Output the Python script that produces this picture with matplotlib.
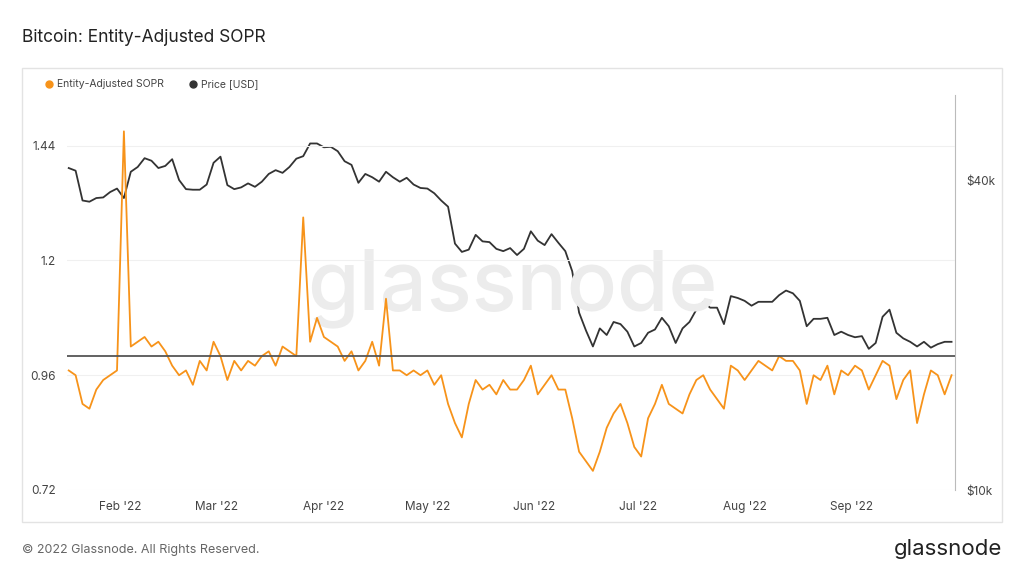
import matplotlib.pyplot as plt
import matplotlib.dates as mdates
from matplotlib.patches import Rectangle
import pandas as pd

# every second day, 2022-01-17 .. 2022-09-30
dates = pd.date_range("2022-01-17", periods=129, freq="2D")

price_k = [
    42.2, 41.7, 36.5, 36.3, 36.9, 37.0, 37.9, 38.5,
    36.9, 41.5, 42.4, 44.1, 43.6, 42.2, 42.6, 43.9, 40.0, 38.4, 38.3, 38.3, 39.2, 43.2,
    44.4, 39.1, 38.4, 38.7, 39.4, 38.8, 39.7, 41.1, 41.8, 41.3, 42.4, 44.0, 44.5, 47.1, 47.1,
    46.3, 46.4, 45.5, 43.5, 42.8, 39.5, 41.1, 40.5, 39.7, 41.5, 40.5, 39.7, 40.4, 39.2, 38.6,
    38.5, 37.7, 36.5, 35.5, 30.1, 29.0, 29.3, 31.3, 30.4, 30.3, 29.4, 29.1, 29.5, 28.6, 29.4, 31.8,
    30.5, 29.9, 31.4, 30.2, 29.1, 26.6, 22.1, 20.4, 19.0, 20.6, 20.0, 21.2, 21.0, 20.3, 19.0,
    19.3, 20.2, 20.5, 21.6, 20.8, 19.3, 20.6, 21.2, 22.4, 23.2, 22.6, 22.6, 21.0, 23.8, 23.6,
    23.3, 22.8, 23.2, 23.2, 23.2, 23.9, 24.4, 24.1, 23.3, 20.8, 21.5, 21.5, 21.6, 20.0, 20.3, 20.0,
    19.8, 19.9, 18.8, 19.3, 21.7, 22.4, 20.2, 19.7, 19.4, 19.0, 19.4, 18.9, 19.2, 19.4, 19.4,
]
price = [p * 1000 for p in price_k]

sopr = [
    0.97, 0.96, 0.90, 0.89, 0.93, 0.95, 0.96, 0.97,
    1.47, 1.02, 1.03, 1.04, 1.02, 1.03, 1.01, 0.98, 0.96, 0.97, 0.94, 0.99, 0.97, 1.03,
    1.00, 0.95, 0.99, 0.97, 0.99, 0.98, 1.00, 1.01, 0.98, 1.02, 1.01, 1.00, 1.29, 1.03, 1.08,
    1.04, 1.03, 1.02, 0.99, 1.01, 0.97, 0.99, 1.03, 0.98, 1.12, 0.97, 0.97, 0.96, 0.97, 0.96,
    0.97, 0.94, 0.96, 0.90, 0.86, 0.83, 0.90, 0.95, 0.93, 0.94, 0.92, 0.95, 0.93, 0.93, 0.95, 0.98,
    0.92, 0.94, 0.96, 0.93, 0.93, 0.87, 0.80, 0.78, 0.76, 0.80, 0.85, 0.88, 0.90, 0.86, 0.81,
    0.79, 0.87, 0.90, 0.94, 0.90, 0.89, 0.88, 0.92, 0.95, 0.96, 0.93, 0.91, 0.89, 0.98, 0.97,
    0.95, 0.97, 0.99, 0.98, 0.97, 1.00, 0.99, 0.99, 0.97, 0.90, 0.96, 0.95, 0.98, 0.92, 0.97, 0.96,
    0.98, 0.97, 0.93, 0.96, 0.99, 0.98, 0.91, 0.95, 0.97, 0.86, 0.92, 0.97, 0.96, 0.92, 0.96,
]

sopr_ticks = [0.72, 0.96, 1.2, 1.44]
price_ticks = [10000, 40000]
price_tick_labels = ["$10k", "$40k"]
month_ticks = pd.date_range("2022-02-01", periods=8, freq="MS")

ORANGE = "#f7931a"
DARK = "#333333"

plt.rcParams['font.family'] = ['Inter', 'DejaVu Sans']
fig = plt.figure(figsize=(10.24, 5.76), dpi=100)
fig.patches.append(Rectangle((22 / 1024, 1 - 522 / 576), 980 / 1024, 454 / 576,
                             transform=fig.transFigure, fill=False, ec="#e3e3e3", lw=1))
ax = fig.add_axes([67 / 1024, 1 - 490 / 576, 888 / 1024, 395 / 576])
ax2 = ax.twinx()

ax.plot(dates, sopr, color=ORANGE, lw=1.3, zorder=3)
ax.axhline(1.0, color="#555555", lw=1.3, zorder=4)
ax.set_ylim(0.72, 1.546)
ax.set_yticks(sopr_ticks)
ax.set_yticklabels([f"{t:g}" for t in sopr_ticks])
ax.grid(axis="y", color="#f0f0f0", lw=0.8)
ax.set_xlim(pd.Timestamp("2022-01-16 12:00"), pd.Timestamp("2022-10-01"))
ax.set_xticks(month_ticks)
ax.xaxis.set_major_formatter(mdates.DateFormatter("%b '%y"))

ax2.plot(dates, price, color=DARK, lw=1.3, zorder=2)
ax2.set_yscale("log")
ax2.set_ylim(10000, 58500)
ax2.set_yticks(price_ticks)
ax2.set_yticklabels(price_tick_labels)
ax2.minorticks_off()

for a in (ax, ax2):
    a.tick_params(length=0, labelsize=8.5, colors="#444444", pad=8)
    for s in a.spines.values():
        s.set_visible(False)
ax2.spines["right"].set_visible(True)
ax2.spines["right"].set_color("#bbbbbb")
ax.set_zorder(ax2.get_zorder() + 1)
ax.patch.set_visible(False)

fig.text(0.5, 0.5, "glassnode", ha="center", va="center", fontsize=60,
         color="#ececec", fontweight="medium", zorder=0)

fig.text(22 / 1024, 1 - 37 / 576, "Bitcoin: Entity-Adjusted SOPR", fontsize=12.5,
         color="#222222", va="center")
fig.lines.append(plt.Line2D([49 / 1024], [1 - 84 / 576], marker="o", ms=5, color=ORANGE,
                            transform=fig.transFigure))
fig.text(57 / 1024, 1 - 84 / 576, "Entity-Adjusted SOPR", fontsize=7.5, color="#444444", va="center")
fig.lines.append(plt.Line2D([193 / 1024], [1 - 84 / 576], marker="o", ms=5, color=DARK,
                            transform=fig.transFigure))
fig.text(201 / 1024, 1 - 84 / 576, "Price [USD]", fontsize=7.5, color="#444444", va="center")
fig.text(22 / 1024, 1 - 550 / 576, "© 2022 Glassnode. All Rights Reserved.", fontsize=9,
         color="#666666", va="center")
fig.text(1002 / 1024, 1 - 549 / 576, "glassnode", fontsize=16, color="#222222",
         ha="right", va="center")

fig.savefig("out.png", dpi=100)
